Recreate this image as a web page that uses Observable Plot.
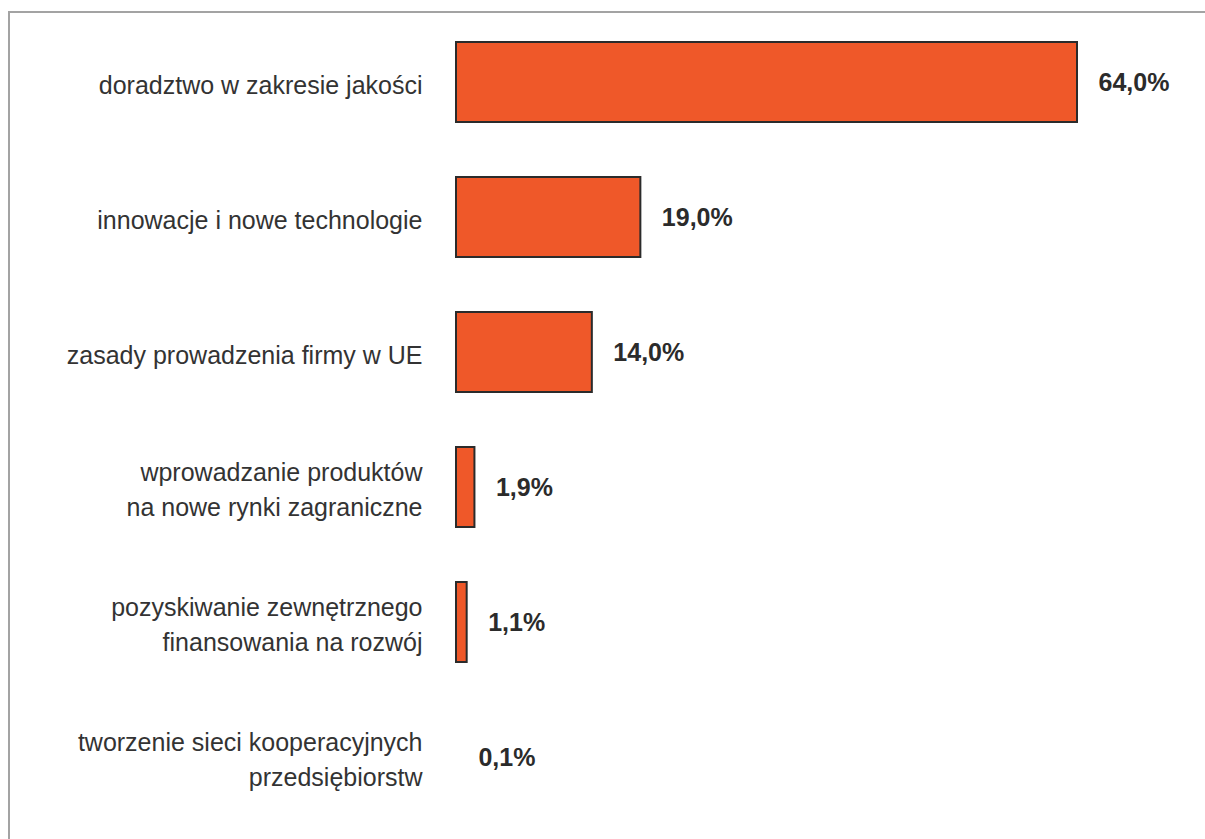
<!DOCTYPE html>
<html>
<head>
<meta charset="utf-8">
<script src="https://cdn.jsdelivr.net/npm/d3@7"></script>
<script src="https://cdn.jsdelivr.net/npm/@observablehq/plot@0.6"></script>
<style>
  html, body { margin: 0; padding: 0; background: #fff; }
  #frame {
    position: absolute; left: 8px; top: 11px;
    width: 1197px; height: 828px;
    border-top: 2px solid #a3a3a3; border-left: 2px solid #a3a3a3;
    box-sizing: border-box;
  }
  #chart { position: absolute; left: 0; top: 0; }
</style>
</head>
<body>
<div id="frame"><div id="chart"></div></div>
<script>
const categories = [
  "doradztwo w zakresie jakości",
  "innowacje i nowe technologie",
  "zasady prowadzenia firmy w UE",
  "wprowadzanie produktów\nna nowe rynki zagraniczne",
  "pozyskiwanie zewnętrznego\nfinansowania na rozwój",
  "tworzenie sieci kooperacyjnych\nprzedsiębiorstw"
];
const values = [64.0, 19.0, 14.0, 1.9, 1.1, 0.1];
const valueLabels = ["64,0%", "19,0%", "14,0%", "1,9%", "1,1%", "0,1%"];

const data = categories.map((c, i) => ({ cat: c, v: values[i], label: valueLabels[i] }));
// bars thinner than the stroke are not visible in the original
const visibleBars = data.filter(d => d.v >= 0.5);

const chart = Plot.plot({
  width: 1195,
  height: 826,
  marginLeft: 446,
  marginRight: 128,
  marginTop: 1.5,
  marginBottom: 14.5,
  style: { fontFamily: "'Liberation Sans', Arial, sans-serif", background: "transparent" },
  x: { domain: [0, 64], axis: null },
  y: { domain: categories, axis: null, paddingInner: 0.41, paddingOuter: 0.205 },
  marks: [
    Plot.barX(visibleBars, { x: "v", y: "cat", fill: "#ef5829", stroke: "#2b2b2b", strokeWidth: 2 }),
    Plot.ruleX(visibleBars, { x: 0, y: "cat", stroke: "#8a8a8a", strokeWidth: 2, insetTop: 1, insetBottom: 1 }),
    Plot.text(data, { x: 0, y: "cat", text: "cat", textAnchor: "end", dx: -34, fontSize: 25, fill: "#333", lineHeight: 1.4 }),
    Plot.text(data, { x: "v", y: "cat", text: "label", textAnchor: "start", dx: 21, fontSize: 25, fontWeight: "bold", fill: "#2b2b2b" })
  ]
});
document.getElementById("chart").appendChild(chart);
</script>
</body>
</html>
